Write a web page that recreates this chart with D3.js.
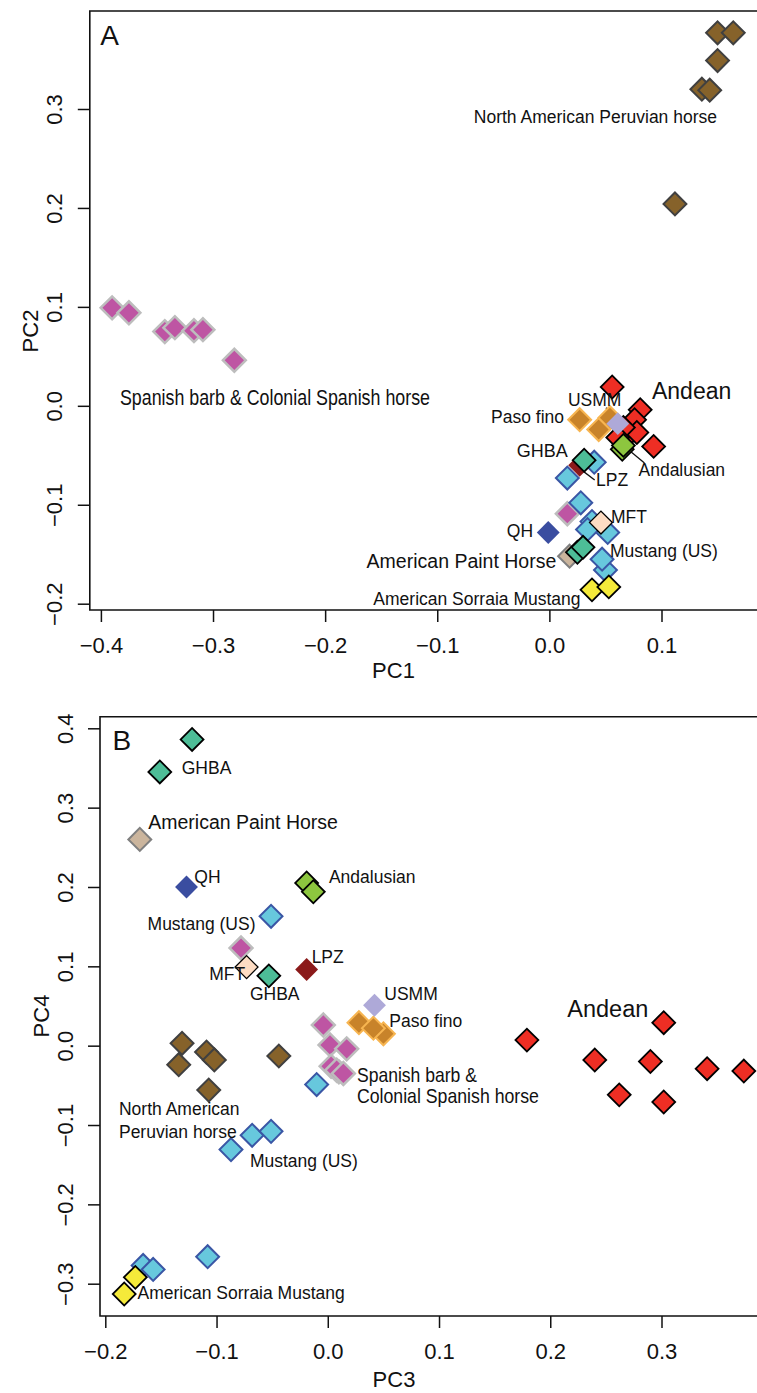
<!DOCTYPE html>
<html>
<head>
<meta charset="utf-8">
<script src="https://cdn.jsdelivr.net/npm/d3@7"></script>
<style>
  body { margin: 0; background: #fff; }
  svg { display: block; }
  text { font-family: "Liberation Sans", Arial, Helvetica, sans-serif; fill: #111; }
</style>
</head>
<body>
<svg id="chart" width="757" height="1393"></svg>
<script>
// ---- data: panel A = [PC1, PC2], panel B = [PC3, PC4]
var peruvianA = [[0.150, 0.377], [0.164, 0.377], [0.150, 0.349], [0.136, 0.320], [0.143, 0.319], [0.112, 0.204]]
var peruvianB = [[-0.131, 0.003], [-0.134, -0.024], [-0.109, -0.008], [-0.102, -0.018], [-0.107, -0.056], [-0.044, -0.013]]
var spanishA = [[-0.390, 0.099], [-0.375, 0.094], [-0.343, 0.075], [-0.334, 0.079], [-0.317, 0.076], [-0.309, 0.077], [-0.281, 0.046], [0.016, -0.109]]
var spanishB = [[-0.078, 0.123], [-0.004, 0.026], [0.002, 0.001], [0.017, -0.004], [0.010, -0.033], [0.003, -0.026], [0.008, -0.031], [0.014, -0.035]]
var pasoA = [[0.027, -0.014], [0.044, -0.024], [0.054, -0.012]]
var pasoB = [[0.050, 0.015], [0.028, 0.029], [0.041, 0.022]]
var andeanA = [[0.056, 0.019], [0.081, -0.004], [0.076, -0.014], [0.070, -0.030], [0.078, -0.027], [0.066, -0.022], [0.093, -0.041], [0.061, -0.032]]
var andeanB = [[0.179, 0.007], [0.302, 0.029], [0.240, -0.018], [0.290, -0.020], [0.341, -0.029], [0.374, -0.032], [0.262, -0.062], [0.302, -0.071]]
var usmmA = [[0.061, -0.018]]
var usmmB = [[0.042, 0.051]]
var andalusianA = [[0.065, -0.044], [0.066, -0.040]]
var andalusianB = [[-0.019, 0.205], [-0.013, 0.194]]
var mustangA = [[0.040, -0.057], [0.016, -0.073], [0.028, -0.098], [0.038, -0.117], [0.034, -0.125], [0.052, -0.128], [0.050, -0.166], [0.047, -0.155]]
var mustangB = [[-0.051, 0.163], [-0.010, -0.049], [-0.068, -0.113], [-0.051, -0.108], [-0.087, -0.131], [-0.108, -0.266], [-0.166, -0.277], [-0.157, -0.282]]
var lpzA = [[0.027, -0.060]]
var lpzB = [[-0.019, 0.096]]
var paintA = [[0.018, -0.152]]
var paintB = [[-0.169, 0.260]]
var ghbaA = [[0.031, -0.055], [0.025, -0.148], [0.030, -0.143]]
var ghbaB = [[-0.122, 0.386], [-0.151, 0.345], [-0.053, 0.088]]
var mftA = [[0.046, -0.118]]
var mftB = [[-0.073, 0.099]]
var qhA = [[-0.001, -0.128]]
var qhB = [[-0.127, 0.200]]
var sorraiaA = [[0.038, -0.186], [0.053, -0.183]]
var sorraiaB = [[-0.173, -0.292], [-0.183, -0.313]]

// tick values
var xTicksA = [-0.4, -0.3, -0.2, -0.1, 0.0, 0.1]
var yTicksA = [-0.2, -0.1, 0.0, 0.1, 0.2, 0.3]
var xTicksB = [-0.2, -0.1, 0.0, 0.1, 0.2, 0.3]
var yTicksB = [-0.3, -0.2, -0.1, 0.0, 0.1, 0.2, 0.3, 0.4]

// text labels [text, x, y] in data units
var labelsA = [
    ['Spanish barb & Colonial Spanish horse', -0.383, 0.001],
    ['USMM', 0.0166, 0.0],
    ['Paso fino', -0.052, -0.017],
    ['Andean', 0.0915, 0.007],
    ['GHBA', -0.029, -0.052],
    ['Andalusian', 0.0795, -0.071],
    ['LPZ', 0.0416, -0.081],
    ['MFT', 0.0549, -0.1185],
    ['QH', -0.038, -0.1326],
    ['Mustang (US)', 0.054, -0.153],
    ['American Paint Horse', -0.163, -0.164],
    ['American Sorraia Mustang', -0.157, -0.2017]
]
var peruLabelA = ['North American Peruvian horse', 0.1495, 0.286]
var leadersA = [
    [[0.0505, -0.002], [0.0603, -0.0144]],
    [[0.0719, -0.0457], [0.0848, -0.0578]],
    [[0.030, -0.066], [0.0404, -0.075]]
]
var labelsB = [
    ['GHBA', -0.1313, 0.3425],
    ['American Paint Horse', -0.1614, 0.2731],
    ['QH', -0.120, 0.2051],
    ['Andalusian', 0.001, 0.2051],
    ['Mustang (US)', -0.162, 0.1458],
    ['LPZ', -0.0145, 0.1042],
    ['MFT', -0.1065, 0.0822],
    ['GHBA', -0.070, 0.0576],
    ['USMM', 0.0508, 0.0576],
    ['Paso fino', 0.0553, 0.0236],
    ['Andean', 0.2153, 0.0362],
    ['Spanish barb &', 0.0262, -0.0454],
    ['Colonial Spanish horse', 0.0262, -0.0722],
    ['North American', -0.1877, -0.0873],
    ['Peruvian horse', -0.1877, -0.1163],
    ['Mustang (US)', -0.070, -0.1529],
    ['American Sorraia Mustang', -0.171, -0.3193]
]

// marker styles, in draw order
var styles = {
    spanish: { fill: '#BE55A3', stroke: '#BDBDBD', sw: 2.5 },
    peruvian: { fill: '#86622A', stroke: '#404040', sw: 2 },
    paso: { fill: '#C8832A', stroke: '#F7B551', sw: 2 },
    andean: { fill: '#EE2E24', stroke: '#000', sw: 1.8 },
    usmm: { fill: '#AEA9D8', stroke: 'none', sw: 0 },
    andalusian: { fill: '#8DC63F', stroke: '#000', sw: 1.8 },
    mustang: { fill: '#67C8DD', stroke: '#3A56A5', sw: 2 },
    lpz: { fill: '#8B1A1A', stroke: 'none', sw: 0 },
    paint: { fill: '#CBB59D', stroke: '#7F7F7F', sw: 2 },
    ghba: { fill: '#4DBD97', stroke: '#000', sw: 1.8 },
    mft: { fill: '#FDDCC3', stroke: '#000', sw: 1.3 },
    qh: { fill: '#3A4DA0', stroke: 'none', sw: 0 },
    sorraia: { fill: '#F5EA3A', stroke: '#000', sw: 1.8 }
}
var groupsA = [['spanish', spanishA], ['peruvian', peruvianA], ['paso', pasoA], ['andean', andeanA], ['usmm', usmmA], ['andalusian', andalusianA], ['mustang', mustangA], ['lpz', lpzA], ['paint', paintA], ['ghba', ghbaA], ['mft', mftA], ['qh', qhA], ['sorraia', sorraiaA]]
var groupsB = [['spanish', spanishB], ['peruvian', peruvianB], ['paso', pasoB], ['andean', andeanB], ['usmm', usmmB], ['andalusian', andalusianB], ['mustang', mustangB], ['lpz', lpzB], ['paint', paintB], ['ghba', ghbaB], ['mft', mftB], ['qh', qhB], ['sorraia', sorraiaB]]

var svg = d3.select('#chart')
var fmt = function (d) { return d3.format('.1f')(d).replace('-', '\u2212') }
var diamond = d3.symbol().type(d3.symbolSquare).size(262)

function drawPanel(p) {
    var g = svg.append('g')
    var X = p.X, Y = p.Y
    //坐标轴
    var xAxis = g.append('g').attr('transform', 'translate(0,' + p.bottom + ')')
        .call(d3.axisBottom(X).tickValues(p.xTicks).tickSize(12).tickFormat(fmt))
    xAxis.select('.domain').remove()
    xAxis.selectAll('line').attr('stroke', '#111').attr('stroke-width', 1.5)
    xAxis.selectAll('text').attr('y', 42.5).attr('dy', 0)
        .attr('font-size', 22).attr('fill', '#111')
        .attr('font-family', '"Liberation Sans", Arial, sans-serif')

    var yAxis = g.append('g').attr('transform', 'translate(' + p.left + ',0)')
        .call(d3.axisLeft(Y).tickValues(p.yTicks).tickSize(12).tickFormat(fmt))
    yAxis.select('.domain').remove()
    yAxis.selectAll('line').attr('stroke', '#111').attr('stroke-width', 1.5)
    yAxis.selectAll('text').attr('x', 0).attr('dy', 0)
        .attr('text-anchor', 'middle')
        .attr('transform', 'translate(-27.5,0) rotate(-90)')
        .attr('font-size', 22).attr('fill', '#111')
        .attr('font-family', '"Liberation Sans", Arial, sans-serif')

    // box (right side runs off the picture)
    g.append('path')
        .attr('d', 'M770,' + p.top + 'H' + p.left + 'V' + p.bottom + 'H770')
        .attr('fill', 'none').attr('stroke', '#111').attr('stroke-width', 1.6)

    g.append('text').attr('x', p.xTitle[0]).attr('y', p.xTitle[1])
        .attr('text-anchor', 'middle').attr('font-size', 22).text(p.xName)
    g.append('text')
        .attr('transform', 'translate(' + p.yTitle[0] + ',' + p.yTitle[1] + ') rotate(-90)')
        .attr('text-anchor', 'middle').attr('font-size', 22).text(p.yName)

    g.append('text').attr('x', X(p.letter[1])).attr('y', Y(p.letter[2]))
        .attr('font-size', 28).text(p.letter[0])

    // leader lines
    g.selectAll('line.leader').data(p.leaders).enter().append('line')
        .attr('class', 'leader')
        .attr('x1', function (d) { return X(d[0][0]) })
        .attr('y1', function (d) { return Y(d[0][1]) })
        .attr('x2', function (d) { return X(d[1][0]) })
        .attr('y2', function (d) { return Y(d[1][1]) })
        .attr('stroke', '#111').attr('stroke-width', 1.3)

    // points
    p.groups.forEach(function (gr) {
        var st = styles[gr[0]]
        g.append('g').selectAll('path').data(gr[1]).enter().append('path')
            .attr('d', diamond)
            .attr('transform', function (d) { return 'translate(' + X(d[0]) + ',' + Y(d[1]) + ') rotate(45)' })
            .attr('fill', st.fill)
            .attr('stroke', st.stroke)
            .attr('stroke-width', st.sw)
    })

    // labels
    g.selectAll('text.lab').data(p.labels).enter().append('text')
        .attr('class', 'lab')
        .attr('x', function (d) { return X(d[1]) })
        .attr('y', function (d) { return Y(d[2]) })
        .attr('font-size', function (d) { return p.sizes[d[0]] || 17.5 })
        .each(function (d) {
            if (p.widths[d[0]]) {
                d3.select(this).attr('textLength', p.widths[d[0]]).attr('lengthAdjust', 'spacingAndGlyphs')
            }
        })
        .text(function (d) { return d[0] })
    return g
}

var XA = d3.scaleLinear().domain([-0.4, 0.1]).range([100.9, 661.5])
var YA = d3.scaleLinear().domain([-0.2, 0.3]).range([603.7, 109])
var gA = drawPanel({
    X: XA, Y: YA, left: 89.8, top: 11, bottom: 610,
    xTicks: xTicksA, yTicks: yTicksA,
    xName: 'PC1', yName: 'PC2', xTitle: [393.5, 678], yTitle: [38, 331],
    letter: ['A', -0.4005, 0.3647],
    groups: groupsA, labels: labelsA, leaders: leadersA,
    sizes: { 'Andean': 23, 'American Paint Horse': 19.5, 'Spanish barb & Colonial Spanish horse': 22, 'GHBA': 18 },
    widths: { 'Spanish barb & Colonial Spanish horse': 310 }
})
gA.append('text').attr('x', XA(peruLabelA[1])).attr('y', YA(peruLabelA[2]))
    .attr('text-anchor', 'end').attr('font-size', 17.5).text(peruLabelA[0])

var XB = d3.scaleLinear().domain([-0.2, 0.3]).range([105.3, 661.5])
var YB = d3.scaleLinear().domain([-0.3, 0.4]).range([1283.7, 728.3])
drawPanel({
    X: XB, Y: YB, left: 100, top: 716.7, bottom: 1316,
    xTicks: xTicksB, yTicks: yTicksB,
    xName: 'PC3', yName: 'PC4', xTitle: [394, 1387], yTitle: [49, 1016],
    letter: ['B', -0.1935, 0.3727],
    groups: groupsB, labels: labelsB, leaders: [],
    sizes: { 'Andean': 23.5, 'American Paint Horse': 19.5, 'Spanish barb &': 21, 'Colonial Spanish horse': 21 },
    widths: { 'Spanish barb &': 120, 'Colonial Spanish horse': 182 }
})
</script>
</body>
</html>
